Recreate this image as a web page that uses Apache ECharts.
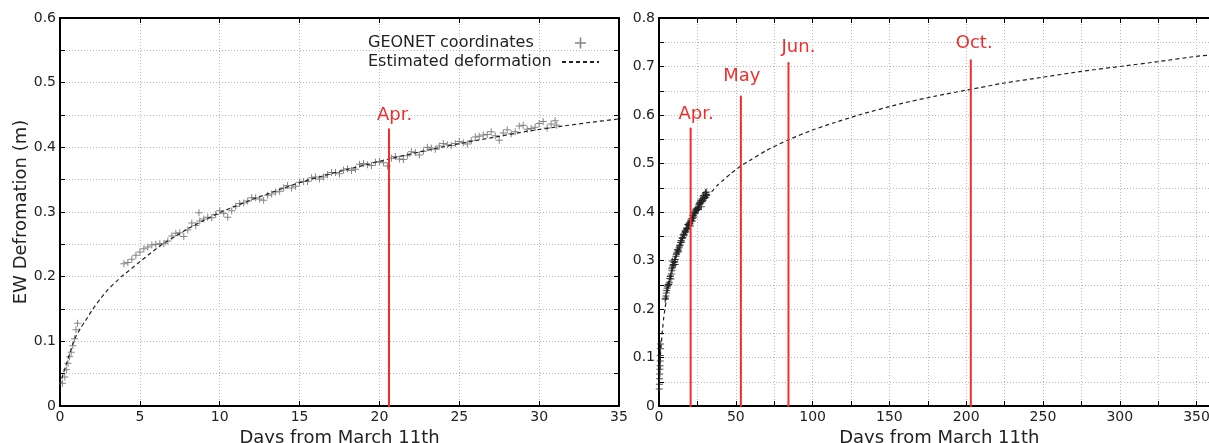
<!DOCTYPE html>
<html><head><meta charset="utf-8">
<script src="https://cdn.jsdelivr.net/npm/echarts@6/dist/echarts.min.js"></script>
<style>html,body{margin:0;padding:0;background:#fff}#c{width:1209px;height:443px}</style>
</head><body><div id="c"></div>
<script>
// GEONET observed EW coordinates (days from March 11th, metres)
const geonetDays = [0.15,0.3,0.4,0.5,0.6,0.7,0.8,0.9,1.0,1.1,
  4.0,4.25,4.5,4.75,5.0,5.25,5.5,5.75,6.0,6.25,6.5,6.75,7.0,7.25,7.5,7.75,8.0,8.25,8.5,8.7,8.75,
  9.0,9.25,9.5,9.75,10.0,10.25,10.5,10.75,11.0,11.25,11.5,11.75,12.0,12.25,12.5,12.75,13.0,13.25,13.5,13.75,
  14.0,14.25,14.5,14.75,15.0,15.25,15.5,15.75,16.0,16.25,16.5,16.75,17.0,17.25,17.5,17.75,18.0,18.25,18.5,18.75,
  19.0,19.25,19.5,19.75,20.0,20.25,20.5,20.75,21.0,21.25,21.5,21.75,22.0,22.25,22.5,22.75,23.0,23.25,23.5,23.75,
  24.0,24.25,24.5,24.75,25.0,25.25,25.5,25.75,26.0,26.25,26.5,26.75,27.0,27.25,27.5,27.75,28.0,28.25,28.5,28.75,
  29.0,29.25,29.5,29.75,30.0,30.25,30.5,30.75,31.0,31.1];
const geonetEW = [0.035,0.045,0.056,0.066,0.076,0.083,0.093,0.104,0.118,0.128,
  0.220,0.222,0.227,0.233,0.238,0.243,0.246,0.249,0.250,0.251,0.251,0.255,0.263,0.267,0.268,0.262,0.272,0.283,0.279,0.299,0.286,
  0.289,0.292,0.291,0.296,0.302,0.298,0.292,0.302,0.309,0.313,0.314,0.317,0.322,0.322,0.320,0.318,0.326,0.328,0.331,0.332,
  0.337,0.341,0.337,0.340,0.346,0.347,0.347,0.353,0.354,0.351,0.354,0.358,0.361,0.361,0.359,0.365,0.367,0.364,0.366,0.374,
  0.375,0.373,0.372,0.377,0.378,0.376,0.371,0.383,0.386,0.382,0.381,0.387,0.393,0.392,0.388,0.394,0.400,0.399,0.397,0.402,
  0.406,0.404,0.403,0.406,0.409,0.407,0.405,0.410,0.416,0.417,0.419,0.420,0.424,0.418,0.411,0.422,0.427,0.421,0.424,0.433,
  0.434,0.428,0.429,0.431,0.437,0.440,0.430,0.436,0.441,0.434];
// Estimated deformation curve
const curveDays = [0,0.1,0.2,0.35,0.5,0.7,0.85,1.0,1.3,1.6,2.0,2.5,3.0,3.5,3.85,4.5,5.0,5.7,6.4,7.2,8.0,9.0,10.1,11,12,13,14,15.2,16.5,18,19.3,20.6,22,23.85,25.5,27.5,29.3,31.25,33,35,38,42,47,53.3,60,70,84.3,100,114,130,157,180,203,225,250,275,300,325,350,365];
const curveEW   = [0.032,0.041,0.050,0.061,0.073,0.088,0.099,0.108,0.121,0.132,0.148,0.165,0.180,0.192,0.200,0.213,0.223,0.237,0.250,0.262,0.274,0.287,0.300,0.309,0.319,0.328,0.337,0.347,0.356,0.366,0.374,0.382,0.390,0.400,0.408,0.417,0.425,0.432,0.438,0.444,0.455,0.466,0.480,0.495,0.508,0.527,0.549,0.569,0.584,0.600,0.623,0.639,0.653,0.666,0.678,0.690,0.700,0.710,0.721,0.725];
// Month markers
const monthNames = ['Apr.','May','Jun.','Oct.'];
const monthDays  = [20.6,53.3,84.3,203];
const monthTops  = [0.572,0.638,0.707,0.713];
const aprTopLeft = 0.428;
const leftXTicks = [0,35,5];
const rightXTicks = [0,365,25];

const FONT = "'DejaVu Sans', Verdana, sans-serif";
const RED = '#ef2e2e';
const TXT = '#222';
const plusPath = 'path://M0,3L7,3L7,4L0,4Z M3,0L4,0L4,7L3,7Z';

const geonet = geonetDays.map((d,i)=>[d,geonetEW[i]]);
const curve = curveDays.map((d,i)=>[d,curveEW[i]]);

function yFmt(v){ const k = Math.round(v*100); return k % 10 === 0 ? (k===0 ? '0' : (k/100).toFixed(1)) : ''; }

function xMain(grid, mn, mx, iv, fmt){
  return {gridIndex:grid, type:'value', min:mn, max:mx, interval:iv, position:'bottom',
    axisLine:{show:true,onZero:false,lineStyle:{color:'#000',width:2}},
    axisTick:{show:true,inside:true,length:5,lineStyle:{color:'#000',width:1}},
    axisLabel:{color:TXT,fontSize:14,fontFamily:FONT,margin:4,formatter:fmt,hideOverlap:false},
    splitLine:{show:true,lineStyle:{color:'#b8b8b8',type:[1,2],width:1}},
    name:'Days from March 11th', nameLocation:'middle', nameGap:20,
    nameTextStyle:{color:TXT,fontSize:18,fontFamily:FONT}};
}
function xTop(grid, mn, mx, iv){
  return {gridIndex:grid, type:'value', min:mn, max:mx, interval:iv, position:'top',
    axisLine:{show:true,onZero:false,lineStyle:{color:'#000',width:2}},
    axisTick:{show:true,inside:true,length:5,lineStyle:{color:'#000',width:1}},
    axisLabel:{show:false}, splitLine:{show:false}};
}
function yMain(grid, mx, name){
  const a = {gridIndex:grid, type:'value', min:0, max:mx, interval:0.05, position:'left',
    axisLine:{show:true,onZero:false,lineStyle:{color:'#000',width:2}},
    axisTick:{show:true,inside:true,length:5,lineStyle:{color:'#000',width:1}},
    axisLabel:{color:TXT,fontSize:14,fontFamily:FONT,margin:4,formatter:yFmt,hideOverlap:false},
    splitLine:{show:true,lineStyle:{color:'#b8b8b8',type:[1,2],width:1}}};
  if (name){ Object.assign(a,{name:name,nameLocation:'middle',nameGap:30,nameTextStyle:{color:TXT,fontSize:18,fontFamily:FONT}}); }
  return a;
}
function yRight(grid, mx){
  return {gridIndex:grid, type:'value', min:0, max:mx, interval:0.05, position:'right',
    axisLine:{show:true,onZero:false,lineStyle:{color:'#000',width:2}},
    axisTick:{show:true,inside:true,length:5,lineStyle:{color:'#000',width:1}},
    axisLabel:{show:false}, splitLine:{show:false}};
}

function monthSeries(xi, yi, day, top, name, dist, off){
  return {type:'line', xAxisIndex:xi, yAxisIndex:yi, silent:true, z:5,
    symbol:'circle', symbolSize:2, showSymbol:true, itemStyle:{color:RED},
    lineStyle:{color:RED,width:2}, emphasis:{disabled:true},
    data:[{value:[day,0],label:{show:false}},
          {value:[day,top],label:{show:true,position:'top',distance:dist,offset:[off,0],formatter:name,
            color:RED,fontSize:18,fontFamily:FONT}}]};
}

const labelDist = [4.5,10,6,7.3];
const labelOff = [5.5,1,10,3.4];

const curveStyle = {color:'#222',width:1.2,type:[4,3]};
const series = [
  {name:'GEONET coordinates', type:'scatter', xAxisIndex:0, yAxisIndex:0, symbol:plusPath, symbolSize:7,
   itemStyle:{color:'#666'}, data:geonet, z:2},
  {name:'Estimated deformation', type:'line', xAxisIndex:0, yAxisIndex:0, symbol:'none', smooth:0.2,
   itemStyle:{color:'#222'}, lineStyle:curveStyle, data:curve, z:3},
  monthSeries(0,0,monthDays[0],aprTopLeft,monthNames[0],3.6,5.5),
  {name:'GEONET coordinates', type:'scatter', xAxisIndex:2, yAxisIndex:2, symbol:plusPath, symbolSize:7,
   itemStyle:{color:'#222'}, data:geonet, z:2},
  {name:'Estimated deformation', type:'line', xAxisIndex:2, yAxisIndex:2, symbol:'none', smooth:0.2,
   itemStyle:{color:'#222'}, lineStyle:curveStyle, data:curve, z:3}
];
monthNames.forEach((n,i)=>series.push(monthSeries(2,2,monthDays[i],monthTops[i],n,labelDist[i],labelOff[i])));

const chart = echarts.init(document.getElementById('c'), null, {renderer:'canvas'});
chart.setOption({
  animation:false,
  backgroundColor:'#fff',
  textStyle:{fontFamily:FONT},
  grid:[{left:60,top:18,width:559,height:388,outerBoundsMode:'none',containLabel:false},
        {left:659,top:18,width:560.6,height:388,outerBoundsMode:'none',containLabel:false}],
  legend:{orient:'vertical', right:609, top:35, align:'right', padding:0,
    itemWidth:37, itemHeight:11, itemGap:3, selectedMode:false,
    data:['GEONET coordinates',{name:'Estimated deformation',itemStyle:{opacity:0}}],
    formatter:n=>'{t|'+n+'}',
    textStyle:{color:TXT,fontSize:16,fontFamily:FONT,
      rich:{t:{width:189,align:'left',color:TXT,fontSize:16,fontFamily:FONT}}}},
  xAxis:[xMain(0,leftXTicks[0],leftXTicks[1],leftXTicks[2],v=>String(v)), xTop(0,leftXTicks[0],leftXTicks[1],leftXTicks[2]),
         xMain(1,rightXTicks[0],rightXTicks[1],rightXTicks[2],v=>(v%50===0?String(v):'')), xTop(1,rightXTicks[0],rightXTicks[1],rightXTicks[2])],
  yAxis:[yMain(0,0.6,'EW Defromation (m)'), yRight(0,0.6), yMain(1,0.8,null), yRight(1,0.8)],
  series:series
});
</script></body></html>
